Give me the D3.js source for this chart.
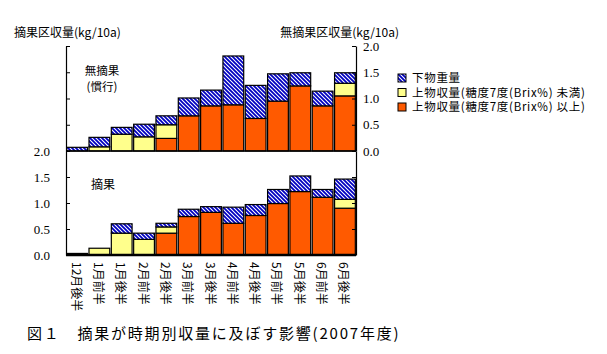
<!DOCTYPE html>
<html>
<head>
<meta charset="utf-8">
<script src="https://cdn.jsdelivr.net/npm/d3@7"></script>
<style>
    body { margin: 0; background: #fff; }
    svg text { font-family: "Noto Sans CJK JP", "DejaVu Sans", sans-serif; fill: #000; }
    .num { font-family: "Liberation Serif", serif; }
</style>
</head>
<body>
<svg id="chart"></svg>
<script>
// Categories (half-month periods)
const categories = ["12月後半", "1月前半", "1月後半", "2月前半", "2月後半", "3月前半", "3月後半",
    "4月前半", "4月後半", "5月前半", "5月後半", "6月前半", "6月後半"];

// Top panel: no thinning (無摘果)
const top_high = [0, 0, 0, 0, 0.24, 0.67, 0.86, 0.88, 0.62, 0.95, 1.24, 0.86, 1.05];
const top_low = [0, 0.08, 0.32, 0.27, 0.26, 0, 0, 0, 0, 0, 0, 0, 0.24];
const top_waste = [0.07, 0.18, 0.13, 0.24, 0.17, 0.34, 0.30, 0.93, 0.63, 0.52, 0.25, 0.28, 0.20];

// Bottom panel: thinning (摘果)
const bot_high = [0, 0, 0, 0, 0.42, 0.74, 0.82, 0.61, 0.76, 0.99, 1.22, 1.11, 0.90];
const bot_low = [0, 0.13, 0.42, 0.30, 0.12, 0, 0, 0, 0, 0, 0, 0, 0.17];
const bot_waste = [0.03, 0, 0.18, 0.12, 0.07, 0.14, 0.11, 0.31, 0.21, 0.27, 0.30, 0.15, 0.39];

const y_ticks = [0, 0.5, 1.0, 1.5, 2.0];
const series_keys = ["high", "low", "waste"];
const legend_labels = ["下物重量", "上物収量(糖度7度(Brix%) 未満)", "上物収量(糖度7度(Brix%) 以上)"];

// Chart dimensions
const width = 607, height = 354;
const plot_left = 66, plot_right = 356;
const top_panel = { y0: 151, y1: 46 };
const bot_panel = { y0: 255, y1: 151 };

const colors = { high: "#ff5a00", low: "#ffff8c", waste: "url(#hatch)" };

const svg = d3.select("#chart").attr("width", width).attr("height", height);

// Hatch pattern for the waste series
const defs = svg.append("defs");
const pat = defs.append("pattern")
    .attr("id", "hatch")
    .attr("patternUnits", "userSpaceOnUse")
    .attr("width", 4).attr("height", 4);
pat.append("rect").attr("width", 4).attr("height", 4).attr("fill", "#fff");
pat.append("path")
    .attr("d", "M-1,-1 L5,5 M-1,3 L1,5 M3,-1 L5,1")
    .attr("stroke", "#0000c0").attr("stroke-width", 1.8);

// Shared x scale
const x_scale = d3.scaleBand()
    .domain(categories)
    .range([plot_left, plot_right])
    .paddingInner(0.07)
    .paddingOuter(0.03);

// Function to draw one panel of stacked bars
function draw_panel(panel, high, low, waste) {
    const y_scale = d3.scaleLinear().domain([0, 2]).range([panel.y0, panel.y1]);
    const rows = categories.map((c, i) => ({ cat: c, high: high[i], low: low[i], waste: waste[i] }));
    const stacked = d3.stack().keys(series_keys)(rows);

    const g = svg.append("g");
    stacked.forEach(function (layer) {
        g.selectAll(null)
            .data(layer.filter(d => d[1] - d[0] > 0))
            .join("rect")
            .attr("x", d => x_scale(d.data.cat))
            .attr("y", d => y_scale(d[1]))
            .attr("width", x_scale.bandwidth())
            .attr("height", d => y_scale(d[0]) - y_scale(d[1]))
            .attr("fill", colors[layer.key])
            .attr("stroke", "#000")
            .attr("stroke-width", 1.2);
    });
    return y_scale;
}

const top_y = draw_panel(top_panel, top_high, top_low, top_waste);
const bot_y = draw_panel(bot_panel, bot_high, bot_low, bot_waste);

// Axes: left (ticks inward), right (ticks inward)
function add_axes(y_scale, left_labels, right_labels) {
    svg.append("g")
        .attr("transform", `translate(${plot_left},0)`)
        .call(d3.axisRight(y_scale).tickValues(y_ticks).tickSize(4).tickSizeOuter(0).tickFormat(""))
        .call(g => g.select(".domain").attr("stroke-width", 1.2));
    svg.append("g")
        .attr("transform", `translate(${plot_right},0)`)
        .call(d3.axisLeft(y_scale).tickValues(y_ticks).tickSize(4).tickSizeOuter(0).tickFormat(""))
        .call(g => g.select(".domain").attr("stroke-width", 1.2));
    if (left_labels) {
        svg.append("g").selectAll("text")
            .data(y_ticks)
            .join("text")
            .attr("class", "num")
            .attr("x", plot_left - 16)
            .attr("y", d => y_scale(d))
            .attr("dy", "0.35em")
            .attr("text-anchor", "end")
            .style("font-size", "13px")
            .text(d => d.toFixed(1));
    }
    if (right_labels) {
        svg.append("g").selectAll("text")
            .data(y_ticks)
            .join("text")
            .attr("class", "num")
            .attr("x", plot_right + 7)
            .attr("y", d => y_scale(d))
            .attr("dy", "0.35em")
            .attr("text-anchor", "start")
            .style("font-size", "13px")
            .text(d => d.toFixed(1));
    }
}
add_axes(top_y, false, true);
add_axes(bot_y, true, false);

// Baselines
svg.append("line").attr("x1", plot_left).attr("x2", plot_right)
    .attr("y1", top_panel.y0).attr("y2", top_panel.y0).attr("stroke", "#000").attr("stroke-width", 1.5);
svg.append("line").attr("x1", plot_left).attr("x2", plot_right)
    .attr("y1", bot_panel.y0).attr("y2", bot_panel.y0).attr("stroke", "#000").attr("stroke-width", 2.5);

// Category labels, rotated
svg.append("g").selectAll("text")
    .data(categories)
    .join("text")
    .attr("transform", d => `translate(${x_scale(d) + x_scale.bandwidth() / 2},262) rotate(90)`)
    .attr("dominant-baseline", "central")
    .style("font-size", "12px")
    .text(d => d);

// Axis titles
svg.append("text").attr("x", 14).attr("y", 37).style("font-size", "12px").text("摘果区収量(kg/10a)");
svg.append("text").attr("x", 399).attr("y", 37).attr("text-anchor", "end").style("font-size", "12px").text("無摘果区収量(kg/10a)");

// Panel labels
svg.append("text").attr("x", 102).attr("y", 75).attr("text-anchor", "middle").style("font-size", "11.5px").text("無摘果");
svg.append("text").attr("x", 102).attr("y", 91).attr("text-anchor", "middle").style("font-size", "11.5px").text("(慣行)");
svg.append("text").attr("x", 103).attr("y", 189).attr("text-anchor", "middle").style("font-size", "12px").text("摘果");

// Legend
const legend_fills = ["url(#hatch)", colors.low, colors.high];
const legend = svg.append("g");
legend_labels.forEach(function (label, i) {
    const ly = 78 + i * 14.5;
    legend.append("rect")
        .attr("x", 398).attr("y", ly - 4).attr("width", 8).attr("height", 8)
        .attr("fill", legend_fills[i]).attr("stroke", "#000").attr("stroke-width", 1);
    legend.append("text")
        .attr("x", 412).attr("y", ly)
        .attr("dy", "0.35em")
        .style("font-size", "11.5px")
        .style("letter-spacing", "0.7px")
        .text(label);
});

// Figure caption
svg.append("text")
    .attr("x", 27).attr("y", 339)
    .style("font-size", "15px")
    .style("letter-spacing", "1.8px")
    .text("図１　摘果が時期別収量に及ぼす影響(2007年度)");
</script>
</body>
</html>
